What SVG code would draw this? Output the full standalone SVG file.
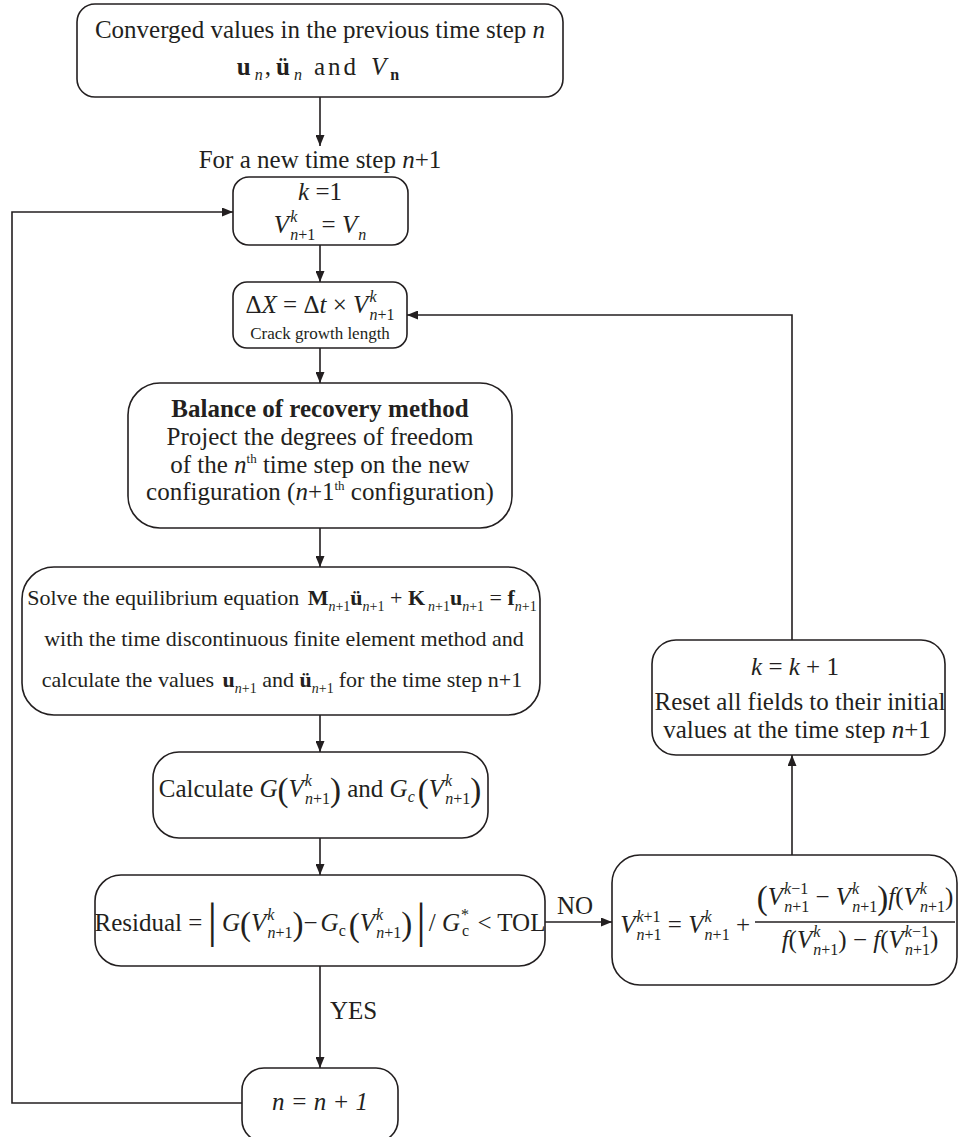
<svg xmlns="http://www.w3.org/2000/svg" width="958" height="1137" viewBox="0 0 958 1137">
<defs>
<style>
.t{font-family:"Liberation Serif","Times New Roman",serif;font-size:25px;fill:#231f20}
.t22{font-size:22px}
.i{font-style:italic}
.b{font-weight:bold}
.s{font-size:16px}
.s14{font-size:14px}
.sm{font-size:13px}
.bp{font-size:33px}
.bar{font-size:48px}
.box{fill:#fff;stroke:#231f20;stroke-width:1.6}
.ln{fill:none;stroke:#231f20;stroke-width:1.6}
</style>
<marker id="ah" markerUnits="userSpaceOnUse" markerWidth="12" markerHeight="9" refX="11" refY="4.5" orient="auto">
<path d="M0,0 L11,4.5 L0,9 z" fill="#231f20"/>
</marker>
</defs>
<rect width="958" height="1137" fill="#fff"/>

<g id="connectors">
<line class="ln" x1="320" y1="97" x2="320" y2="146" marker-end="url(#ah)"/>
<line class="ln" x1="320" y1="245" x2="320" y2="282" marker-end="url(#ah)"/>
<line class="ln" x1="320" y1="348" x2="320" y2="383" marker-end="url(#ah)"/>
<line class="ln" x1="320" y1="528" x2="320" y2="567" marker-end="url(#ah)"/>
<line class="ln" x1="320" y1="715" x2="320" y2="752" marker-end="url(#ah)"/>
<line class="ln" x1="320" y1="838" x2="320" y2="875" marker-end="url(#ah)"/>
<line class="ln" x1="320" y1="966" x2="320" y2="1068" marker-end="url(#ah)"/>
<line class="ln" x1="545" y1="922" x2="612" y2="922" marker-end="url(#ah)"/>
<line class="ln" x1="792" y1="855" x2="792" y2="755" marker-end="url(#ah)"/>
<path class="ln" d="M792,640 V315 H407" marker-end="url(#ah)"/>
<path class="ln" d="M242,1103 H12 V212 H233" marker-end="url(#ah)"/>
<text class="t" x="575" y="914" text-anchor="middle">NO</text>
<text class="t" x="330" y="1019">YES</text>
<text class="t" x="320" y="168" text-anchor="middle">For a new time step <tspan class="i">n</tspan>+1</text>
</g>

<g id="n1">
<rect class="box" x="77" y="4" width="486" height="93" rx="18"/>
<text class="t" x="320" y="38" text-anchor="middle">Converged values in the previous time step <tspan class="i">n</tspan></text>
<text class="t" x="318" y="75" text-anchor="middle"><tspan class="b">u</tspan><tspan class="s i" dx="4" dy="5">n</tspan><tspan dx="2" dy="-5">,</tspan><tspan class="b" dx="5">ü</tspan><tspan class="s i" dx="4" dy="5">n</tspan><tspan dx="12" dy="-5" letter-spacing="3">and</tspan><tspan class="i" dx="12">V</tspan><tspan class="s b" dx="4" dy="5">n</tspan></text>
</g>

<g id="n2">
<rect class="box" x="233" y="177" width="175" height="68" rx="16"/>
<text class="t" x="320" y="200" text-anchor="middle"><tspan class="i">k</tspan> =1</text>
<text class="t" x="320" y="233" text-anchor="middle"><tspan class="i">V</tspan><tspan class="s i" dx="1" dy="-11">k</tspan><tspan class="s" dx="-7" dy="18"><tspan class="i">n</tspan>+1</tspan><tspan dy="-7"> = </tspan><tspan class="i">V</tspan><tspan class="s i" dx="1" dy="7">n</tspan></text>
</g>

<g id="n3">
<rect class="box" x="233" y="282" width="174" height="66" rx="14"/>
<text class="t" x="320" y="313" text-anchor="middle">Δ<tspan class="i">X</tspan> = Δ<tspan class="i">t</tspan> × <tspan class="i">V</tspan><tspan class="s i" dx="1" dy="-11">k</tspan><tspan class="s" dx="-7" dy="18"><tspan class="i">n</tspan>+1</tspan></text>
<text class="t" x="320" y="339" text-anchor="middle" style="font-size:17px">Crack growth length</text>
</g>

<g id="n4">
<rect class="box" x="128" y="383" width="384" height="145" rx="32"/>
<text class="t b" x="320" y="417" text-anchor="middle">Balance of recovery method</text>
<text class="t" x="320" y="445" text-anchor="middle">Project the degrees of freedom</text>
<text class="t" x="320" y="473" text-anchor="middle">of the <tspan class="i">n</tspan><tspan class="sm" dy="-10">th</tspan><tspan dy="10"> time step on the new</tspan></text>
<text class="t" x="320" y="500" text-anchor="middle">configuration (<tspan class="i">n</tspan>+1<tspan class="sm" dy="-10">th</tspan><tspan dy="10"> configuration)</tspan></text>
</g>

<g id="n5">
<rect class="box" x="22" y="567" width="518" height="148" rx="32"/>
<text class="t t22" x="282" y="605" text-anchor="middle">Solve the equilibrium equation <tspan class="b" dx="3">M</tspan><tspan class="s14" dy="6"><tspan class="i">n</tspan>+1</tspan><tspan class="b" dy="-6">ü</tspan><tspan class="s14" dy="6"><tspan class="i">n</tspan>+1</tspan><tspan dy="-6"> + </tspan><tspan class="b">K</tspan><tspan class="s14" dx="3" dy="6"><tspan class="i">n</tspan>+1</tspan><tspan class="b" dy="-6">u</tspan><tspan class="s14" dy="6"><tspan class="i">n</tspan>+1</tspan><tspan dy="-6"> = </tspan><tspan class="b">f</tspan><tspan class="s14" dy="6"><tspan class="i">n</tspan>+1</tspan></text>
<text class="t t22" x="284" y="646" text-anchor="middle">with the time discontinuous finite element method and</text>
<text class="t t22" x="282" y="687" text-anchor="middle">calculate the values <tspan class="b" dx="3">u</tspan><tspan class="s14" dy="6"><tspan class="i">n</tspan>+1</tspan><tspan dy="-6"> and </tspan><tspan class="b">ü</tspan><tspan class="s14" dy="6"><tspan class="i">n</tspan>+1</tspan><tspan dx="5" dy="-6">for the time step n+1</tspan></text>
</g>

<g id="n6">
<rect class="box" x="153" y="752" width="335" height="86" rx="26"/>
<text class="t" x="320" y="797" text-anchor="middle">Calculate <tspan class="i">G</tspan><tspan class="bp" dy="4">(</tspan><tspan class="i" dy="-4">V</tspan><tspan class="s i" dx="1" dy="-11">k</tspan><tspan class="s" dx="-7" dy="18"><tspan class="i">n</tspan>+1</tspan><tspan class="bp" dy="-3">)</tspan><tspan dy="-4"> and </tspan><tspan class="i">G</tspan><tspan class="s i" dy="5">c</tspan><tspan class="bp" dx="3">(</tspan><tspan class="i" dy="-5">V</tspan><tspan class="s i" dx="1" dy="-11">k</tspan><tspan class="s" dx="-7" dy="18"><tspan class="i">n</tspan>+1</tspan><tspan class="bp" dy="-3">)</tspan></text>
</g>

<g id="n7">
<rect class="box" x="95" y="875" width="450" height="91" rx="26"/>
<text class="t" x="320" y="931" text-anchor="middle">Residual =<tspan class="bar" dx="5" dy="6">|</tspan><tspan class="i" dx="5" dy="-6">G</tspan><tspan class="bp" dy="4">(</tspan><tspan class="i" dy="-4">V</tspan><tspan class="s i" dx="1" dy="-11">k</tspan><tspan class="s" dx="-7" dy="18"><tspan class="i">n</tspan>+1</tspan><tspan class="bp" dy="-3">)</tspan><tspan dy="-4">−</tspan><tspan class="i" dx="3">G</tspan><tspan class="s" dy="5">c</tspan><tspan class="bp" dx="3">(</tspan><tspan class="i" dy="-5">V</tspan><tspan class="s i" dx="1" dy="-11">k</tspan><tspan class="s" dx="-7" dy="18"><tspan class="i">n</tspan>+1</tspan><tspan class="bp" dy="-3">)</tspan><tspan class="bar" dx="4" dy="2">|</tspan><tspan dx="3" dy="-6">/ </tspan><tspan class="i">G</tspan><tspan class="s" dx="1" dy="-11">*</tspan><tspan class="s" dx="-7" dy="16">c</tspan><tspan dx="2" dy="-5"> &lt; TOL</tspan></text>
</g>

<g id="n8">
<rect class="box" x="612" y="855" width="345" height="130" rx="28"/>
<text class="t" x="750" y="933" text-anchor="end"><tspan class="i">V</tspan><tspan class="s" dx="1" dy="-11"><tspan class="i">k</tspan>+1</tspan><tspan class="s" dx="-24" dy="18"><tspan class="i">n</tspan>+1</tspan><tspan dy="-7"> = </tspan><tspan class="i">V</tspan><tspan class="s i" dx="1" dy="-11">k</tspan><tspan class="s" dx="-7" dy="18"><tspan class="i">n</tspan>+1</tspan><tspan dy="-7"> +</tspan></text>
<line class="ln" x1="755" y1="922" x2="955" y2="922"/>
<text class="t" x="855" y="905" text-anchor="middle"><tspan class="bp" dy="4">(</tspan><tspan class="i" dy="-4">V</tspan><tspan class="s" dx="1" dy="-11"><tspan class="i">k</tspan>−1</tspan><tspan class="s" dx="-24" dy="18"><tspan class="i">n</tspan>+1</tspan><tspan dy="-7"> − </tspan><tspan class="i">V</tspan><tspan class="s i" dx="1" dy="-11">k</tspan><tspan class="s" dx="-7" dy="18"><tspan class="i">n</tspan>+1</tspan><tspan class="bp" dy="-3">)</tspan><tspan class="i" dy="-4">f</tspan><tspan>(</tspan><tspan class="i">V</tspan><tspan class="s i" dx="1" dy="-11">k</tspan><tspan class="s" dx="-7" dy="18"><tspan class="i">n</tspan>+1</tspan><tspan dy="-7">)</tspan></text>
<text class="t" x="860" y="948" text-anchor="middle"><tspan class="i">f</tspan>(<tspan class="i">V</tspan><tspan class="s i" dx="1" dy="-11">k</tspan><tspan class="s" dx="-7" dy="18"><tspan class="i">n</tspan>+1</tspan><tspan dy="-7">) − </tspan><tspan class="i">f</tspan>(<tspan class="i">V</tspan><tspan class="s" dx="1" dy="-11"><tspan class="i">k</tspan>−1</tspan><tspan class="s" dx="-24" dy="18"><tspan class="i">n</tspan>+1</tspan><tspan dy="-7">)</tspan></text>
</g>

<g id="n9">
<rect class="box" x="652" y="640" width="293" height="115" rx="24"/>
<text class="t" x="795" y="675" text-anchor="middle"><tspan class="i">k</tspan> = <tspan class="i">k</tspan> + 1</text>
<text class="t" x="800" y="710" text-anchor="middle">Reset all fields to their initial</text>
<text class="t" x="797" y="738" text-anchor="middle">values at the time step <tspan class="i">n</tspan>+1</text>
</g>

<g id="n10">
<rect class="box" x="242" y="1068" width="156" height="74" rx="22"/>
<text class="t i" x="320" y="1110" text-anchor="middle">n = n + 1</text>
</g>
</svg>
